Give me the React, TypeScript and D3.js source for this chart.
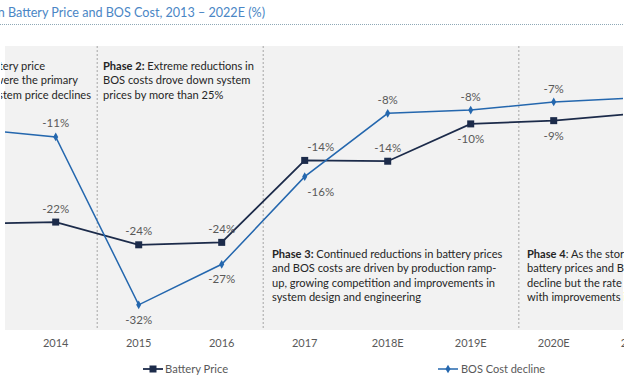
import React from 'react'
import * as d3 from 'd3'

// categories and series (% change year over year)
const years = ['2013', '2014', '2015', '2016', '2017', '2018E', '2019E', '2020E', '2021E', '2022E']
const batteryPrice = [-21.9, -21.7, -24.5, -24.2, -14.1, -14.2, -9.6, -9.2, -8.3, -7.6]
const bosCost = [-10.2, -11.2, -31.9, -26.9, -16.1, -8.3, -7.9, -6.9, -6.4, -6.0]
// where each data label sits relative to its point
const batteryLabelPos = ['t', 't', 't', 't', 'tr', 't', 'b', 'b', 'b', 'b']
const bosLabelPos = ['t', 't', 'b', 'b', 'br', 't', 't', 't', 't', 't']
// phase dividers, in category steps from the first year
const phaseBreaks = [1.5, 3.5, 6.58]

const phase1 = ['Phase 1: Falling battery price', 'declines were the primary', 'driver of system price declines']
const phase2 = [['Phase 2:', ' Extreme reductions in'], ['', 'BOS costs drove down system'], ['', 'prices by more than 25%']]
const phase3 = [
    ['Phase 3:', ' Continued reductions in battery prices'],
    ['', 'and BOS costs are driven by production ramp-'],
    ['', 'up, growing competition and improvements in'],
    ['', 'system design and engineering'],
]
const phase4 = [
    ['Phase 4', ': As the storage market matures,'],
    ['', 'battery prices and BOS costs continue to'],
    ['', 'decline but the rate of decline slows,'],
    ['', 'with improvements in efficiency'],
]

const W = 630
const H = 385
const plot = { left: 5, right: 623, top: 46, bottom: 330 }
const FONT = 'Lato, "Open Sans", sans-serif'
const labelColor = '#595959'
const batteryColor = '#1c2b4a'
const bosColor = '#2467ae'

function App() {
    const x = d3.scalePoint<string>().domain(years).range([-27.3, -27.3 + 83 * (years.length - 1)])
    const y = d3.scaleLinear().domain([-35, 0]).range([plot.bottom, plot.top])
    const step = x.step()
    const x0 = x(years[0]) as number

    const line = d3.line<number>()
        .x((d, i) => x(years[i]) as number)
        .y(d => y(d))

    const label = (v: number, i: number, pos: string) => {
        const px = x(years[i]) as number
        const py = y(v)
        const dx = pos.includes('r') ? 16 : 0
        const dy = pos.startsWith('t') ? -13.5 : 15
        return (
            <text key={i} x={px + dx} y={py + dy} dy="0.35em" textAnchor="middle"
                fontSize={11.5} fill={labelColor}>{Math.round(v) + '%'}</text>
        )
    }

    const phaseText = (lines: string[][], tx: number, ty: number) => (
        lines.map((l, i) => (
            <text key={i} x={tx} y={ty + i * 14.5} dy="0.35em" fontSize={11.1} fill="#262626">
                <tspan fontWeight="bold">{l[0]}</tspan>{l[1]}
            </text>
        ))
    )

    const diamond = d3.symbol().type(d3.symbolDiamond).size(22)()

    return (
        <svg width={W} height={H} style={{ position: 'absolute', left: 0, top: 0, fontFamily: FONT }}>
            <defs>
                <clipPath id="plotClip">
                    <rect x={plot.left} y={plot.top} width={plot.right - plot.left} height={plot.bottom - plot.top} />
                </clipPath>
                <clipPath id="pageClip">
                    <rect x={0} y={0} width={plot.right + 1} height={H} />
                </clipPath>
                <clipPath id="phase1Clip">
                    <rect x={1} y={plot.top} width={plot.right} height={plot.bottom - plot.top} />
                </clipPath>
            </defs>
            <g clipPath="url(#pageClip)">
                <text x={265} y={17} textAnchor="end" fontSize={12.6} fill="#4a86c5">
                    Annual Decline in Battery Price and BOS Cost, 2013 – 2022E (%)
                </text>
                <line x1={0} x2={plot.right} y1={24.5} y2={24.5} stroke="#8ea8b6" strokeWidth={1} strokeDasharray="1,1" />

                <rect x={plot.left} y={plot.top} width={plot.right - plot.left} height={plot.bottom - plot.top} fill="#f2f2f2" />

                {phaseBreaks.map((b, i) => (
                    <line key={i} x1={x0 + b * step} x2={x0 + b * step} y1={plot.top} y2={plot.bottom}
                        stroke="#a6a6a6" strokeWidth={1} strokeDasharray="2,2" />
                ))}

                <g clipPath="url(#phase1Clip)">
                    {phase1.map((l, i) => (
                        <text key={i} x={[45, 78, 91][i]} y={66 + i * 14.5} dy="0.35em" textAnchor="end" fontSize={11.1} fill="#262626">{l}</text>
                    ))}
                </g>
                {phaseText(phase2, 103, 66)}
                {phaseText(phase3, 272, 254)}
                {phaseText(phase4, 527, 254)}

                <g clipPath="url(#plotClip)">
                    <path d={line(batteryPrice) || ''} fill="none" stroke={batteryColor} strokeWidth={1.8} />
                    <path d={line(bosCost) || ''} fill="none" stroke={bosColor} strokeWidth={1.5} />
                    {batteryPrice.map((v, i) => (
                        <rect key={i} x={(x(years[i]) as number) - 3.5} y={y(v) - 3.5} width={7} height={7} fill={batteryColor} />
                    ))}
                    {bosCost.map((v, i) => (
                        <path key={i} d={diamond || ''} transform={`translate(${x(years[i])},${y(v)})`} fill={bosColor} />
                    ))}
                </g>

                {batteryPrice.map((v, i) => label(v, i, batteryLabelPos[i]))}
                {bosCost.map((v, i) => label(v, i, bosLabelPos[i]))}

                {years.map(yr => (
                    <text key={yr} x={x(yr)} y={343} dy="0.35em" textAnchor="middle" fontSize={11} fill={labelColor}>{yr}</text>
                ))}

                <g transform="translate(143,369)">
                    <line x1={0} x2={20} stroke={batteryColor} strokeWidth={1.8} />
                    <rect x={6.5} y={-3.5} width={7} height={7} fill={batteryColor} />
                    <text x={22} dy="0.35em" fontSize={11.2} fill={labelColor}>Battery Price</text>
                </g>
                <g transform="translate(438,369)">
                    <line x1={0} x2={20} stroke={bosColor} strokeWidth={1.5} />
                    <path d={diamond || ''} transform="translate(10,0)" fill={bosColor} />
                    <text x={23} dy="0.35em" fontSize={11} fill={labelColor}>BOS Cost decline</text>
                </g>
            </g>
        </svg>
    )
}

export default App
